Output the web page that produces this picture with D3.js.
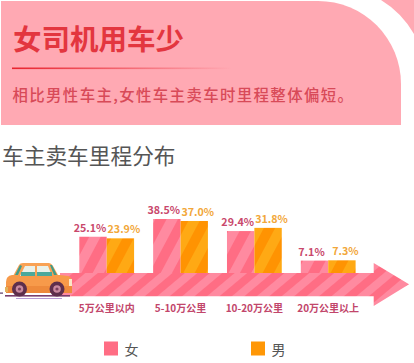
<!DOCTYPE html>
<html>
<head>
<meta charset="utf-8">
<script src="https://cdn.jsdelivr.net/npm/d3@7"></script>
<style>
html, body { margin: 0; padding: 0; background: #fff; }
svg { display: block; }
text { font-family: "Noto Sans CJK SC", "Noto Sans", sans-serif; }
</style>
</head>
<body>
<div id="chart"></div>
<script>
const categories = ['5万公里以内', '5-10万公里', '10-20万公里', '20万公里以上'];
const femaleValues = [25.1, 38.5, 29.4, 7.1];
const maleValues = [23.9, 37.0, 31.8, 7.3];
const seriesNames = ['女', '男'];

const width = 414, height = 363;
const baseY = 276; // bars run down behind the arrow

const svg = d3.select('#chart').append('svg')
    .attr('width', width)
    .attr('height', height);

const defs = svg.append('defs');

function stripes(id, base, stripe, size, angle) {
    const p = defs.append('pattern')
        .attr('id', id)
        .attr('patternUnits', 'userSpaceOnUse')
        .attr('width', size)
        .attr('height', size)
        .attr('patternTransform', `rotate(${angle})`);
    p.append('rect').attr('width', size).attr('height', size).attr('fill', base);
    p.append('rect').attr('width', size / 2).attr('height', size).attr('fill', stripe);
}
stripes('barF', '#ff8aa0', '#ff6d84', 20, 28);
stripes('barM', '#ffa914', '#ff9302', 20, 28);
stripes('arrowStripe', '#ff8aa0', '#ff6d84', 16, 50);

const grad = defs.append('linearGradient').attr('id', 'rule');
grad.append('stop').attr('offset', '0').attr('stop-color', '#e8232e');
grad.append('stop').attr('offset', '1').attr('stop-color', '#e8232e').attr('stop-opacity', 0);

// header panel
svg.append('path')
    .attr('d', 'M1,1 H318 A83,83 0 0 1 401,84 V125 H1 Z')
    .attr('fill', '#ffa9b3');
svg.append('path')
    .attr('d', 'M381,0 A95,95 0 0 1 414,34 V0 Z')
    .attr('fill', '#ffa9b3');

svg.append('text')
    .attr('x', 13).attr('y', 50)
    .attr('font-size', 28.5).attr('font-weight', 700)
    .attr('fill', '#e3363f')
    .text('女司机用车少');

svg.append('rect')
    .attr('x', 12).attr('y', 67.5)
    .attr('width', 220).attr('height', 1.6)
    .attr('fill', 'url(#rule)');

svg.append('text')
    .attr('x', 12.5).attr('y', 101)
    .attr('font-size', 15.4)
    .attr('font-weight', 500)
    .attr('letter-spacing', 1.4)
    .attr('fill', '#d84a58')
    .text('相比男性车主,女性车主卖车时里程整体偏短。');

svg.append('text')
    .attr('x', 2).attr('y', 164)
    .attr('font-size', 21.7)
    .attr('fill', '#555')
    .text('车主卖车里程分布');

// scales
const x0 = d3.scaleBand()
    .domain(categories)
    .range([79.3, 355.6])
    .paddingInner(0.258)
    .paddingOuter(0);
const x1 = d3.scaleBand()
    .domain(seriesNames)
    .range([0, x0.bandwidth()]);
const y = d3.scaleLinear()
    .domain([0, 38.5])
    .range([270, 219]);

const series = [
    { name: '女', values: femaleValues, fill: 'url(#barF)', label: '#c9486c', shift: -3 },
    { name: '男', values: maleValues, fill: 'url(#barM)', label: '#f2a73a', shift: 3.5 }
];

series.forEach(function(s) {
    const g = svg.append('g');
    g.selectAll('rect')
        .data(s.values)
        .enter()
        .append('rect')
        .attr('x', (d, i) => x0(categories[i]) + x1(s.name))
        .attr('y', d => y(d))
        .attr('width', x1.bandwidth())
        .attr('height', d => baseY - y(d))
        .attr('fill', s.fill);
    g.selectAll('text')
        .data(s.values)
        .enter()
        .append('text')
        .attr('x', (d, i) => x0(categories[i]) + x1(s.name) + x1.bandwidth() / 2 + s.shift)
        .attr('y', d => y(d) - 5)
        .attr('text-anchor', 'middle')
        .attr('font-family', '"Noto Sans", sans-serif')
        .attr('font-size', 10.7)
        .attr('font-weight', 700)
        .attr('fill', s.label)
        .text(d => d.toFixed(1) + '%');
});

// arrow
svg.append('path')
    .attr('d', 'M60,273 H373.7 V263 L409,284.3 L373.7,306 V296.3 H60 Z')
    .attr('fill', 'url(#arrowStripe)');

svg.append('g').selectAll('text')
    .data(categories)
    .enter()
    .append('text')
    .attr('x', d => x0(d) + x0.bandwidth() / 2)
    .attr('y', 312)
    .attr('text-anchor', 'middle')
    .attr('font-size', 10)
    .attr('font-weight', 700)
    .attr('fill', '#c2466b')
    .text(d => d);

// car
const car = svg.append('g');
car.append('rect').attr('x', 0).attr('y', 292.5).attr('width', 3).attr('height', 1.2).attr('fill', '#5b3a66');
car.append('rect').attr('x', 5).attr('y', 295).attr('width', 65).attr('height', 1.6).attr('fill', '#7a3f6e');
car.append('rect').attr('x', 16).attr('y', 298).attr('width', 46).attr('height', 1).attr('fill', '#9a6fc0').attr('opacity', 0.7);
// cabin and body
car.append('path')
    .attr('d', 'M13,276 L19,265 Q20,263 23,263 H49 Q51,263 53,266 L58,275 Z')
    .attr('fill', '#f9a255');
car.append('path')
    .attr('d', 'M6,282 Q6,276 12,275 H60 L68,276 Q72,277 72,283 V293 H6 Z')
    .attr('fill', '#f79a4a');
car.append('path')
    .attr('d', 'M20,276 L25,266 H35 V276 Z M37,266 H48 L52,276 H37 Z')
    .attr('fill', '#eaf1ea');
car.append('rect').attr('x', 21).attr('y', 272).attr('width', 14).attr('height', 4).attr('fill', '#4ba89b');
car.append('rect').attr('x', 37).attr('y', 272).attr('width', 15).attr('height', 4).attr('fill', '#4ba89b');
car.append('path')
    .attr('d', 'M15,275 L20,265 L22,266 L18,275 Z M50,265 L52,265 L57,275 L54,275 Z')
    .attr('fill', '#3f9c8a');
car.append('rect').attr('x', 6).attr('y', 286).attr('width', 66).attr('height', 7).attr('fill', '#ee8a3c');
car.append('rect').attr('x', 69).attr('y', 279).attr('width', 3).attr('height', 7).attr('fill', '#fbe6c8');
car.append('rect').attr('x', 5).attr('y', 287).attr('width', 3).attr('height', 5).attr('fill', '#e2b25e');
[19.5, 57].forEach(function(cx) {
    car.append('circle').attr('cx', cx).attr('cy', 289).attr('r', 7.5).attr('fill', '#5e2f4c');
    car.append('circle').attr('cx', cx).attr('cy', 289).attr('r', 3.8).attr('fill', '#c98aa0');
    car.append('circle').attr('cx', cx).attr('cy', 289).attr('r', 1.6).attr('fill', '#7b3f5e');
});

// legend
const legendX = d3.scaleOrdinal().domain(seriesNames).range([104, 251]);
const legendColor = d3.scaleOrdinal().domain(seriesNames).range(['#ff6d84', '#ff9706']);
const legend = svg.append('g').selectAll('g')
    .data(seriesNames)
    .enter()
    .append('g')
    .attr('transform', d => `translate(${legendX(d)},341.5)`);
legend.append('rect')
    .attr('width', 14)
    .attr('height', 14)
    .attr('fill', d => legendColor(d));
legend.append('text')
    .attr('x', 20.5)
    .attr('y', 13)
    .attr('font-size', 14)
    .attr('fill', '#555')
    .text(d => d);
</script>
</body>
</html>
